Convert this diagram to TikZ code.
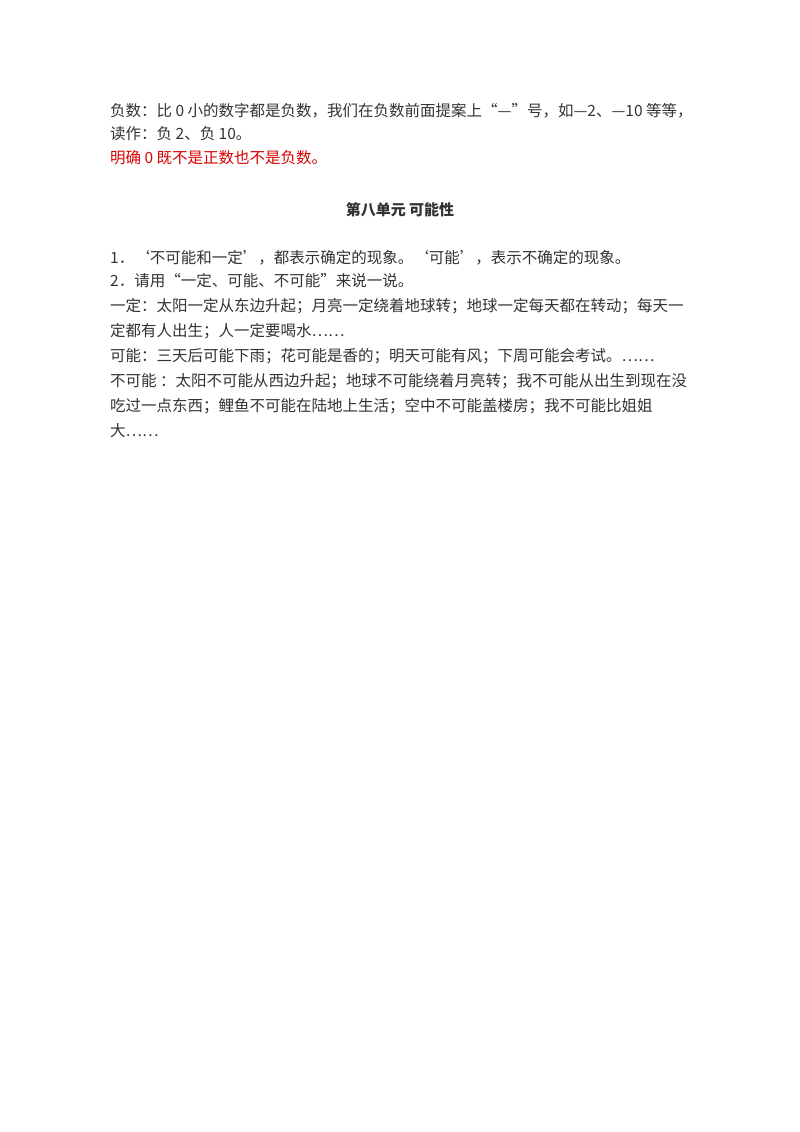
\documentclass[tikz,border=0pt]{standalone}
\usepackage{fontspec}
\setmainfont{Noto Sans CJK SC}
\begin{document}
\begin{tikzpicture}[x=1pt,y=-1pt,
  ln/.style={anchor=west,inner sep=0pt,font=\fontsize{15.5}{16}\selectfont,text=black!80},
  red/.style={ln,text=red!85!black}]
\useasboundingbox[fill=white] (0,0) rectangle (800,1132);
\node[ln] (l1) at (110,111) {负数：比 0 小的数字都是负数，我们在负数前面提案上“—”号，如—2、—10 等等，};
\node[ln] (l2) at (110,134) {读作：负 2、负 10。};
\node[red] (l3) at (110,158) {明确 0 既不是正数也不是负数。};
\node[ln,anchor=center,font=\bfseries\fontsize{15}{16}\selectfont] (t) at (400,210) {第八单元 可能性};
\node[ln] (a1) at (110,258) {1．‘不可能和一定’，都表示确定的现象。‘可能’，表示不确定的现象。};
\node[ln] (a2) at (110,281) {2．请用“一定、可能、不可能”来说一说。};
\node[ln] (a3) at (110,306) {一定：太阳一定从东边升起；月亮一定绕着地球转；地球一定每天都在转动；每天一};
\node[ln] (a4) at (110,331) {定都有人出生；人一定要喝水……};
\node[ln] (a5) at (110,356) {可能：三天后可能下雨；花可能是香的；明天可能有风；下周可能会考试。……};
\node[ln] (a6) at (110,381) {不可能 ：太阳不可能从西边升起；地球不可能绕着月亮转；我不可能从出生到现在没};
\node[ln] (a7) at (110,406) {吃过一点东西；鲤鱼不可能在陆地上生活；空中不可能盖楼房；我不可能比姐姐};
\node[ln] (a8) at (110,431) {大……};
\end{tikzpicture}
\end{document}
